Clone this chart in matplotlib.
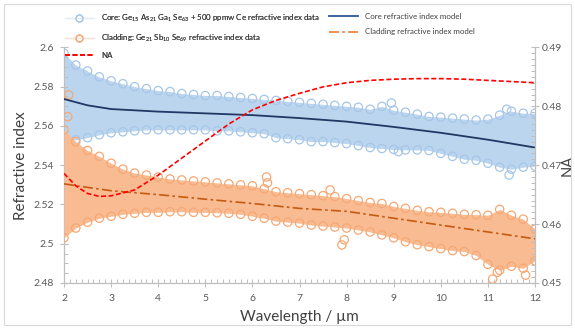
import matplotlib
matplotlib.use("Agg")
import matplotlib.pyplot as plt
from matplotlib.lines import Line2D
from matplotlib.patches import Rectangle
from matplotlib.ticker import MultipleLocator

plt.rcParams["font.family"] = ["Lato", "DejaVu Sans"]
plt.rcParams["mathtext.fontset"] = "custom"
plt.rcParams["mathtext.rm"] = "Lato"
plt.rcParams["mathtext.it"] = "Lato:italic"

# ── Data ──
# edges of the measured refractive-index clouds (wavelength in um)
wl_env = [2.0, 2.25, 2.5, 2.75, 3.0, 3.25, 3.5, 3.75, 4.0, 4.25, 4.5, 4.75,
          5.0, 5.25, 5.5, 5.75, 6.0, 6.25, 6.5, 6.75, 7.0, 7.25, 7.5, 7.75,
          8.0, 8.25, 8.5, 8.75, 9.0, 9.25, 9.5, 9.75, 10.0, 10.25, 10.5, 10.75,
          11.0, 11.25, 11.5, 11.75, 12.0]
core_upper = [2.597, 2.591, 2.588, 2.585, 2.583, 2.5815, 2.580, 2.579, 2.578, 2.5775,
              2.5765, 2.576, 2.5755, 2.5755, 2.575, 2.5745, 2.574, 2.5735, 2.573, 2.5725,
              2.572, 2.5715, 2.571, 2.5705, 2.570, 2.5695, 2.5685, 2.570, 2.568, 2.567,
              2.566, 2.5648, 2.5645, 2.564, 2.5635, 2.563, 2.5635, 2.5655, 2.5675, 2.5665,
              2.5665]
core_lower = [2.552, 2.553, 2.554, 2.5555, 2.5565, 2.557, 2.5575, 2.558, 2.558, 2.558,
              2.558, 2.558, 2.558, 2.5575, 2.5575, 2.557, 2.5565, 2.556, 2.554, 2.5535,
              2.553, 2.552, 2.552, 2.5515, 2.551, 2.550, 2.549, 2.5485, 2.548, 2.5478,
              2.5478, 2.5475, 2.546, 2.5445, 2.543, 2.5425, 2.541, 2.539, 2.538, 2.539,
              2.5395]
clad_upper = [2.558, 2.552, 2.5475, 2.5445, 2.541, 2.538, 2.536, 2.535, 2.534, 2.533,
              2.5325, 2.532, 2.5315, 2.531, 2.5305, 2.530, 2.5295, 2.528, 2.5265, 2.526,
              2.5255, 2.525, 2.5245, 2.524, 2.523, 2.522, 2.521, 2.5205, 2.519, 2.518,
              2.517, 2.5163, 2.516, 2.5155, 2.515, 2.5148, 2.5145, 2.5175, 2.5145, 2.5125,
              2.5075]
clad_lower = [2.503, 2.508, 2.511, 2.513, 2.514, 2.515, 2.5155, 2.516, 2.516, 2.5163,
              2.5163, 2.516, 2.516, 2.5158, 2.5155, 2.515, 2.514, 2.513, 2.5115, 2.511,
              2.5105, 2.5095, 2.509, 2.5085, 2.508, 2.507, 2.506, 2.5045, 2.503, 2.501,
              2.4995, 2.4985, 2.4975, 2.4965, 2.496, 2.494, 2.4895, 2.4865, 2.4885, 2.4875,
              2.4913]

# stray points outside the clouds
core_out_wl = [8.95, 11.4, 11.45, 9.1]
core_out_n = [2.5717, 2.5685, 2.535, 2.5469]
clad_out_wl = [2.1, 2.08, 7.65, 6.3, 6.32, 7.9, 7.95, 11.1, 11.8, 11.2]
clad_out_n = [2.5758, 2.5647, 2.5274, 2.534, 2.531, 2.4994, 2.502, 2.482, 2.484, 2.4855]

# model curves
wl_model = [2, 2.5, 3, 4, 5, 6, 7, 8, 9, 10, 11, 12]
core_model = [2.5737, 2.5705, 2.5686, 2.5673, 2.5664, 2.5655, 2.5640, 2.5622,
              2.5595, 2.5565, 2.5530, 2.5490]
clad_model = [2.5305, 2.5287, 2.527, 2.525, 2.5227, 2.5205, 2.518, 2.5165,
              2.513, 2.5095, 2.506, 2.5025]

wl_na = [2, 2.25, 2.5, 2.75, 3, 3.5, 4, 4.5, 5, 5.5, 6, 6.5, 7, 7.5, 8, 8.5,
         9, 9.5, 10, 10.5, 11, 11.5, 12]
na = [0.4686, 0.4665, 0.4652, 0.4647, 0.4648, 0.4658, 0.4683, 0.4712, 0.4741,
      0.4770, 0.4794, 0.4810, 0.4822, 0.4833, 0.4840, 0.4844, 0.4846, 0.4847,
      0.4847, 0.4846, 0.4844, 0.4842, 0.4840]

core_label = ("Core: Ge$_{15}$ As$_{21}$ Ga$_{1}$ Se$_{63}$ + 500 ppmw Ce "
              "refractive index data")
clad_label = "Cladding: Ge$_{21}$ Sb$_{10}$ Se$_{69}$ refractive index data"

BLUE_FILL, BLUE_EDGE = "#bcd5ee", "#a6c6e7"
ORANGE_FILL, ORANGE_EDGE = "#f9bb92", "#f6a874"
AXIS_GRAY = "#bfbfbf"
TXT = "#595959"

fig = plt.figure(figsize=(5.75, 3.29), dpi=100)
ax = fig.add_axes([64 / 575, 1 - 283 / 329, 471 / 575, 235.6 / 329])
ax2 = ax.twinx()

# ── clouds ──
ax.fill_between(wl_env, core_lower, core_upper, color=BLUE_FILL, lw=0, zorder=1)
for ys in (core_upper, core_lower):
    ax.scatter(wl_env, ys, s=36, facecolors="none", edgecolors=BLUE_EDGE,
               linewidths=0.9, zorder=2)
ax.scatter(core_out_wl, core_out_n, s=36, facecolors="none", edgecolors=BLUE_EDGE,
           linewidths=0.9, zorder=2)

ax.fill_between(wl_env, clad_lower, clad_upper, color=ORANGE_FILL, lw=0, zorder=3)
for ys in (clad_upper, clad_lower):
    ax.scatter(wl_env, ys, s=36, facecolors="none", edgecolors=ORANGE_EDGE,
               linewidths=0.9, zorder=4)
ax.scatter(clad_out_wl, clad_out_n, s=36, facecolors="none", edgecolors=ORANGE_EDGE,
           linewidths=0.9, zorder=4)

# ── models ──
ax.plot(wl_model, core_model, color="#1f3864", lw=1.3, zorder=6)
ax.plot(wl_model, clad_model, color="#c55a11", lw=1.2, ls=(0, (6, 2, 1.5, 2)), zorder=6)
ax2.plot(wl_na, na, color="#ff0000", lw=1.2, ls=(0, (3, 1.5)), zorder=6)

# ── axes styling ──
ax.set_xlim(2, 12)
ax.set_ylim(2.48, 2.6)
ax2.set_ylim(0.45, 0.49)
ax.xaxis.set_major_locator(MultipleLocator(1))
ax.xaxis.set_minor_locator(MultipleLocator(0.125))
ax.yaxis.set_minor_locator(MultipleLocator(0.005))
ax2.yaxis.set_minor_locator(MultipleLocator(0.001))
ax.set_yticks([2.48, 2.5, 2.52, 2.54, 2.56, 2.58, 2.6])
ax.set_yticklabels(["2.48", "2.5", "2.52", "2.54", "2.56", "2.58", "2.6"])
ax2.set_yticks([0.45, 0.46, 0.47, 0.48, 0.49])
ax2.set_yticklabels(["0.45", "0.46", "0.47", "0.48", "0.49"])

for a in (ax, ax2):
    a.spines["top"].set_visible(False)
    for side in ("left", "bottom", "right"):
        a.spines[side].set_color(AXIS_GRAY)
        a.spines[side].set_linewidth(0.9)
    a.tick_params(which="major", direction="inout", length=6, color=AXIS_GRAY,
                  labelsize=7.5, labelcolor=TXT, width=0.8)
    a.tick_params(which="minor", direction="in", length=3, color=AXIS_GRAY, width=0.7)
ax.spines["right"].set_visible(False)
ax2.spines["left"].set_visible(False)
ax2.spines["bottom"].set_visible(False)
ax.tick_params(axis="x", pad=5)
ax.tick_params(axis="y", pad=4)
ax2.tick_params(axis="y", pad=2)

ax.set_xlabel("Wavelength / µm", fontsize=11, color="#404040", labelpad=5)
ax.set_ylabel("Refractive index", fontsize=11, color="#404040", labelpad=4)
ax2.set_ylabel("NA", fontsize=10.5, color="#404040")
ax2.yaxis.set_label_coords((561 - 64) / 471, 0.5)

# ── legend (two blocks, like the spreadsheet layout) ──
data_handles = [
    Line2D([], [], color="#e4ecf6", lw=1, marker="o", ms=5, mfc="none",
           mec=BLUE_EDGE, mew=0.9),
    Line2D([], [], color="#f6e4d8", lw=1, marker="o", ms=5, mfc="none",
           mec=ORANGE_EDGE, mew=0.9),
    Line2D([], [], color="#ff0000", lw=1.2, ls=(0, (3, 1.5))),
]
model_handles = [
    Line2D([], [], color="#2f5597", lw=1.3),
    Line2D([], [], color="#ed7d31", lw=1.2, ls=(0, (6, 2, 1.5, 2))),
]
leg_kw = dict(loc="upper left", frameon=False, fontsize=5.7, handlelength=3.6,
              handletextpad=0.9, labelspacing=1.05, labelcolor="#404040")
leg1 = fig.legend(data_handles, [core_label, clad_label, "NA"],
                  bbox_to_anchor=(58 / 575, 1 - 6 / 329), **leg_kw)
fig.legend(model_handles, ["Core refractive index model",
                           "Cladding refractive index model"],
           bbox_to_anchor=(322 / 575, 1 - 6 / 329), **leg_kw)
fig.add_artist(leg1)

fig.patches.append(Rectangle((4 / 575, 4 / 329), 567 / 575, 321 / 329,
                             transform=fig.transFigure, fill=False,
                             edgecolor="#d9d9d9", lw=0.8))

fig.savefig("out.png", dpi=100)
